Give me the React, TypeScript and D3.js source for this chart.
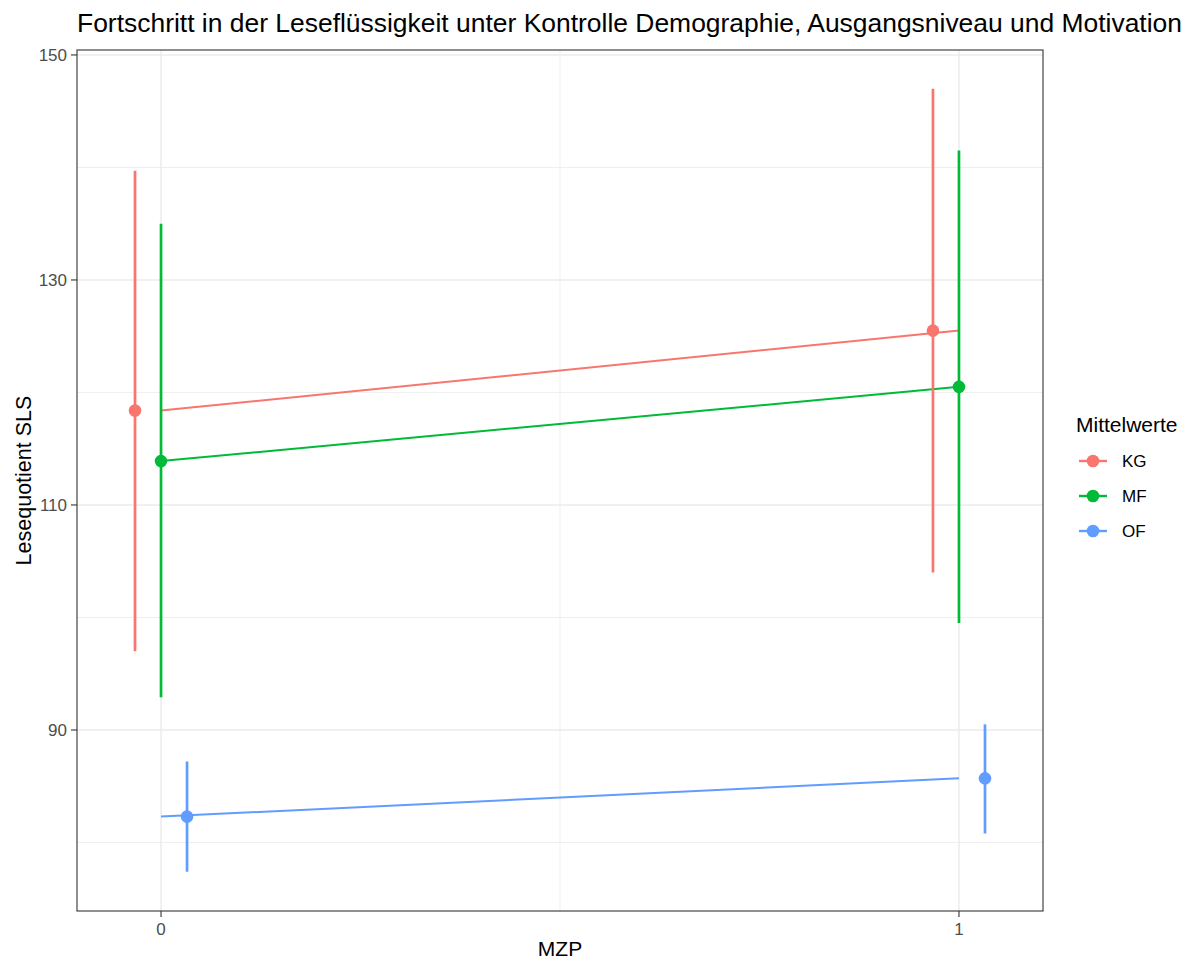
import React from "react";
import * as d3 from "d3";

const groups = ["KG", "MF", "OF"];
const colors = ["#F8766D", "#00BA38", "#619CFF"];
const timepoints = [0, 1];
const means = [
  [118.4, 125.5],
  [113.9, 120.5],
  [82.3, 85.7],
];
const lower = [
  [97.0, 104.0],
  [92.9, 99.5],
  [77.4, 80.8],
];
const upper = [
  [139.7, 147.0],
  [135.0, 141.5],
  [87.2, 90.5],
];
const dodge = [-0.0326, 0, 0.0326];
const yTicks = [90, 110, 130, 150];
const yMinor = [80, 100, 120, 140];
const xTicks = [0, 1];
const xMinor = [0.5];

const title =
  "Fortschritt in der Leseflüssigkeit unter Kontrolle Demographie, Ausgangsniveau und Motivation";

export default function App() {
  const W = 1200;
  const H = 962;
  const left = 77;
  const right = 1043;
  const top = 50;
  const bottom = 911;
  const font = "'Liberation Sans', Arial, Helvetica, sans-serif";

  const x = d3.scaleLinear().domain([-0.1053, 1.1053]).range([left, right]);
  const y = d3.scaleLinear().domain([73.91, 150.44]).range([bottom, top]);
  const line = d3
    .line<number>()
    .x((_, i) => x(timepoints[i]))
    .y((d) => y(d));

  return (
    <svg
      width={W}
      height={H}
      style={{ position: "absolute", left: 0, top: 0, background: "#fff" }}
      fontFamily={font}
    >
      <rect x={0} y={0} width={W} height={H} fill="#fff" />
      {/* grid */}
      {yMinor.map((v) => (
        <line key={"ym" + v} x1={left} x2={right} y1={y(v)} y2={y(v)} stroke="#EBEBEB" strokeWidth={0.8} />
      ))}
      {xMinor.map((v) => (
        <line key={"xm" + v} x1={x(v)} x2={x(v)} y1={top} y2={bottom} stroke="#EBEBEB" strokeWidth={0.8} />
      ))}
      {yTicks.map((v) => (
        <line key={"yg" + v} x1={left} x2={right} y1={y(v)} y2={y(v)} stroke="#EBEBEB" strokeWidth={1.4} />
      ))}
      {xTicks.map((v) => (
        <line key={"xg" + v} x1={x(v)} x2={x(v)} y1={top} y2={bottom} stroke="#EBEBEB" strokeWidth={1.4} />
      ))}
      {/* lines */}
      {groups.map((g, i) => (
        <path key={"l" + g} d={line(means[i]) || ""} fill="none" stroke={colors[i]} strokeWidth={2} />
      ))}
      {/* error bars */}
      {groups.map((g, i) =>
        timepoints.map((t, j) => (
          <line
            key={"e" + g + t}
            x1={x(t + dodge[i])}
            x2={x(t + dodge[i])}
            y1={y(lower[i][j])}
            y2={y(upper[i][j])}
            stroke={colors[i]}
            strokeWidth={2.7}
          />
        ))
      )}
      {/* points */}
      {groups.map((g, i) =>
        timepoints.map((t, j) => (
          <circle key={"p" + g + t} cx={x(t + dodge[i])} cy={y(means[i][j])} r={6.3} fill={colors[i]} />
        ))
      )}
      {/* panel border */}
      <rect x={left} y={top} width={right - left} height={bottom - top} fill="none" stroke="#333333" strokeWidth={1.1} />
      {/* y axis */}
      {yTicks.map((v) => (
        <g key={"yt" + v}>
          <line x1={left - 6} x2={left} y1={y(v)} y2={y(v)} stroke="#333333" strokeWidth={1.1} />
          <text x={left - 10} y={y(v)} dy="0.35em" textAnchor="end" fontSize={17} fill="#4D4D4D">
            {v}
          </text>
        </g>
      ))}
      {/* x axis */}
      {xTicks.map((v) => (
        <g key={"xt" + v}>
          <line x1={x(v)} x2={x(v)} y1={bottom} y2={bottom + 6} stroke="#333333" strokeWidth={1.1} />
          <text x={x(v)} y={bottom + 24} textAnchor="middle" fontSize={17} fill="#4D4D4D">
            {v}
          </text>
        </g>
      ))}
      <text x={(left + right) / 2} y={956} textAnchor="middle" fontSize={21} fill="#000">
        MZP
      </text>
      <text
        transform={`translate(31, ${(top + bottom) / 2}) rotate(-90)`}
        textAnchor="middle"
        fontSize={21.5}
        fill="#000"
      >
        Lesequotient SLS
      </text>
      {/* title */}
      <text x={77} y={32} fontSize={26} fill="#000" textLength={1105} lengthAdjust="spacingAndGlyphs">
        {title}
      </text>
      {/* legend */}
      <text x={1076} y={432} fontSize={21} fill="#000">
        Mittelwerte
      </text>
      {groups.map((g, i) => {
        const cy = 461 + i * 35;
        return (
          <g key={"lg" + g}>
            <line x1={1079} x2={1107} y1={cy} y2={cy} stroke={colors[i]} strokeWidth={2.4} />
            <circle cx={1093} cy={cy} r={6.3} fill={colors[i]} />
            <text x={1122} y={cy} dy="0.35em" fontSize={17} fill="#000">
              {g}
            </text>
          </g>
        );
      })}
    </svg>
  );
}
